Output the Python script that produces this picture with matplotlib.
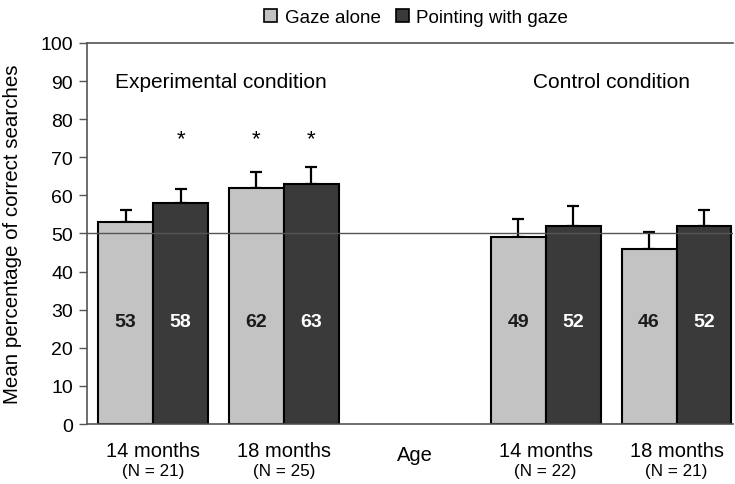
import numpy as np
import matplotlib.pyplot as plt
from matplotlib.patches import Patch

plt.rcParams['font.family'] = ['Liberation Sans', 'DejaVu Sans']

# data
ages = ["14 months", "18 months", "14 months", "18 months"]
ns = ["(N = 21)", "(N = 25)", "(N = 22)", "(N = 21)"]
gaze = [53, 62, 49, 46]
pointing = [58, 63, 52, 52]
gaze_err = [3.2, 4.1, 4.8, 4.4]
pointing_err = [3.7, 4.4, 5.2, 4.2]
gaze_star = [False, True, False, False]
pointing_star = [True, True, False, False]

pos = np.array([0, 1, 3, 4])
w = 0.42
light = "#c3c3c3"
dark = "#3a3a3a"

fig = plt.figure(figsize=(7.35, 4.85), dpi=100)
ax = fig.add_axes([0.1184, 0.1237, 0.8786, 0.7856])

ax.bar(pos - w/2, gaze, w, color=light, edgecolor="black", linewidth=1.5, zorder=2)
ax.bar(pos + w/2, pointing, w, color=dark, edgecolor="black", linewidth=1.5, zorder=2)
ax.errorbar(pos - w/2, gaze, yerr=[np.zeros(4), gaze_err], fmt="none",
            ecolor="black", elinewidth=1.6, capsize=4, capthick=1.6, zorder=1)
ax.errorbar(pos + w/2, pointing, yerr=[np.zeros(4), pointing_err], fmt="none",
            ecolor="black", elinewidth=1.6, capsize=4, capthick=1.6, zorder=1)

ax.axhline(50, color="#555555", linewidth=1.0, zorder=3)

# values inside bars
for i in range(4):
    ax.text(pos[i] - w/2, 27, str(gaze[i]), ha="center", va="center",
            fontsize=14, fontweight="bold", color="#1a1a1a", zorder=4)
    ax.text(pos[i] + w/2, 27, str(pointing[i]), ha="center", va="center",
            fontsize=14, fontweight="bold", color="white", zorder=4)
    if gaze_star[i]:
        ax.text(pos[i] - w/2, 75, "*", ha="center", va="center", fontsize=16)
    if pointing_star[i]:
        ax.text(pos[i] + w/2, 75, "*", ha="center", va="center", fontsize=16)

ax.text(-0.29, 90, "Experimental condition", ha="left", va="center", fontsize=15)
ax.text(3.5, 90, "Control condition", ha="center", va="center", fontsize=15)

ax.set_xlim(-0.505, 4.43)
ax.set_ylim(0, 100)
ax.set_yticks(np.arange(0, 101, 10))
ax.tick_params(axis="y", labelsize=14, length=6, width=1, color="#555555", pad=4)
ax.set_xticks([])
ax.set_ylabel("Mean percentage of correct searches", fontsize=14.8)
ax.yaxis.set_label_coords(-0.1, 0.5)

for s in ["top", "bottom", "left"]:
    ax.spines[s].set_color("#555555")
    ax.spines[s].set_linewidth(1.2)
ax.spines["right"].set_visible(False)

# x labels
for i in range(4):
    ax.text(pos[i], -6.9, ages[i], ha="center", va="center", fontsize=14.5,
            clip_on=False)
    ax.text(pos[i], -12.3, ns[i], ha="center", va="center", fontsize=12.3,
            clip_on=False)
ax.text(2, -8, "Age", ha="center", va="center", fontsize=14.5, clip_on=False)

handles = [Patch(facecolor=light, edgecolor="black", linewidth=1.2, label="Gaze alone"),
           Patch(facecolor=dark, edgecolor="black", linewidth=1.2, label="Pointing with gaze")]
fig.legend(handles=handles, loc="center", bbox_to_anchor=(0.566, 0.962), ncol=2,
           frameon=False, fontsize=13.5, handlelength=0.7, handleheight=0.7,
           handletextpad=0.4, columnspacing=0.8)

fig.savefig("out.png", dpi=100)
